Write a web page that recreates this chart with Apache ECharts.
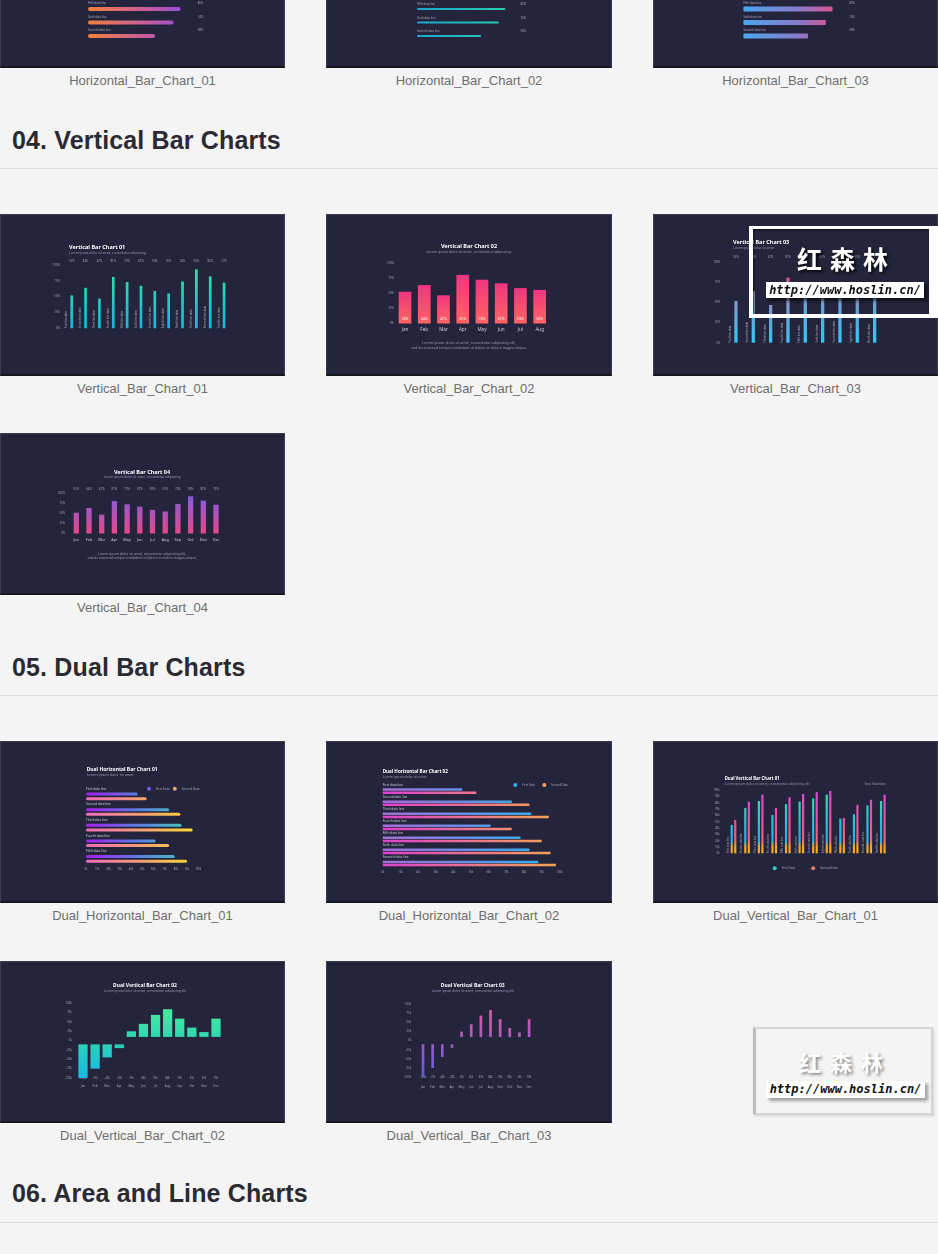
<!DOCTYPE html>
<html lang="en">
<head>
<meta charset="utf-8">
<title>Bar Chart Templates</title>
<script src="https://cdn.jsdelivr.net/npm/echarts@6.0.0/dist/echarts.min.js"></script>
<style>
html,body{margin:0;padding:0;background:#f4f4f4;width:938px;height:1254px;overflow:hidden;position:relative;font-family:"Liberation Sans",Arial,sans-serif;}
.thumb{position:absolute;height:162px;background:#24243c;overflow:hidden;}
.frame{position:absolute;height:162px;box-sizing:border-box;border:1px solid #3c3c50;border-bottom:2px solid #16161f;pointer-events:none;z-index:5;}
.cap{position:absolute;font-size:13px;line-height:16px;color:#6e6e6e;text-align:center;white-space:nowrap;}
.h{position:absolute;left:12px;font-size:25px;line-height:25px;font-weight:bold;color:#2a2a33;white-space:nowrap;letter-spacing:0.15px;}
.rule{position:absolute;left:0;width:938px;height:1px;background:#dcdcdc;}
.wmtext{position:absolute;font-family:"Noto Sans CJK SC",sans-serif;font-weight:bold;color:#ffffff;white-space:nowrap;z-index:21;}
.wmurl{position:absolute;background:#ffffff;color:#111;font:italic bold 12px "DejaVu Sans Mono",monospace;text-align:center;white-space:nowrap;z-index:21;}
</style>
</head>
<body>
<div class="h" style="top:128px">04. Vertical Bar Charts</div>
<div class="rule" style="top:168px"></div>
<div class="h" style="top:655px">05. Dual Bar Charts</div>
<div class="rule" style="top:695px"></div>
<div class="h" style="top:1181px">06. Area and Line Charts</div>
<div class="rule" style="top:1222px"></div>

<script>
// ---------------- data ----------------
const hbarCats = ['Fifth data line', 'Sixth data line', 'Seventh data line'];
const hbar01Values = [80, 74, 58];
const hbar02Values = [80, 74, 58];
const hbar03Values = [80, 74, 58];

const lineCats12 = ['First line data', 'Second line data', 'Third line data', 'Fourth line data', 'Fifth line data', 'Sixth line data', 'Seventh line data', 'Eighth line data', 'Ninth line data', 'Tenth line data', 'Eleventh line data', 'Twelfth line data'];
const vbar01Values = [52, 64, 47, 81, 73, 67, 59, 55, 74, 93, 82, 72];

const months8 = ['Jan', 'Feb', 'Mar', 'Apr', 'May', 'Jun', 'Jul', 'Aug'];
const vbar02Values = [53, 64, 47, 81, 73, 67, 59, 56];

const lineCats9 = ['First line data', 'Second line data', 'Third line data', 'Fourth line data', 'Fifth line data', 'Sixth line data', 'Seventh line data', 'Eighth line data', 'Ninth line data'];
const vbar03Values = [52, 64, 47, 81, 73, 67, 59, 55, 74];
const vbar03Highlight = 3;

const months12 = ['Jan', 'Feb', 'Mar', 'Apr', 'May', 'Jun', 'Jul', 'Aug', 'Sep', 'Oct', 'Nov', 'Dec'];
const vbar04Values = [52, 64, 47, 81, 73, 67, 59, 55, 74, 93, 82, 72];

const legendNames = ['First Data', 'Second Data'];
const dualH01Cats = ['First data line', 'Second data line', 'Third data line', 'Fourth data line', 'Fifth data line'];
const dualH01First = [46, 74, 85, 62, 79];
const dualH01Second = [54, 84, 95, 74, 90];

const dualH02Cats = ['First data line', 'Second data line', 'Third data line', 'Fourth data line', 'Fifth data line', 'Sixth data line', 'Seventh data line'];
const dualH02First = [45, 73, 84, 61, 78, 83, 88];
const dualH02Second = [53, 83, 94, 73, 90, 95, 98];

const dualV01Cats = ['First data line', 'Second data line', 'Third data line', 'Fourth data line', 'Fifth data line', 'Sixth data line', 'Seventh data line', 'Eighth data line', 'Ninth data line', 'Tenth data line', 'Eleventh data line', 'Twelfth data line'];
const dualV01First = [45, 72, 83, 61, 78, 82, 87, 93, 55, 62, 76, 83];
const dualV01Second = [53, 82, 93, 72, 89, 94, 97, 99, 56, 77, 85, 93];

const dualV02Values = [-100, -75, -45, -20, 25, 45, 69, 84, 59, 35, 23, 59];
const dualV03Values = [-100, -75, -45, -20, 25, 45, 69, 84, 59, 35, 23, 59];

// ---------------- helpers ----------------
const FONT = 'Noto Sans';
const AX = '#a4a4ba';
const LIGHT = '#c9c9d8';
const SUB = '#9a9ab2';
const G = echarts.graphic.LinearGradient;
const OFF = {show: false};
const FLOAT_GAP = 10; // visual gap around the zero line in the dual vertical charts

function makeThumb(x, y, w, caption) {
  const d = document.createElement('div');
  d.className = 'thumb';
  d.style.left = x + 'px'; d.style.top = y + 'px'; d.style.width = w + 'px';
  document.body.appendChild(d);
  const f = document.createElement('div');
  f.className = 'frame';
  f.style.left = x + 'px'; f.style.top = y + 'px'; f.style.width = w + 'px';
  document.body.appendChild(f);
  const c = document.createElement('div');
  c.className = 'cap';
  c.style.left = x + 'px'; c.style.width = w + 'px'; c.style.top = (y + 166.5) + 'px';
  c.textContent = caption;
  document.body.appendChild(c);
  return echarts.init(d, null, {renderer: 'canvas', width: w, height: 162});
}

function T(x, y, text, size, opt) {
  opt = opt || {};
  return {type: 'text', x: x, y: y, silent: true, z: 10,
    style: {text: text, fill: opt.color || '#ffffff', fontSize: size, fontWeight: opt.bold ? 'bold' : 'normal',
      fontFamily: FONT, align: opt.align || 'left', verticalAlign: 'middle'}};
}

function lab(size, extra) {
  return Object.assign({fontSize: size, color: AX, fontFamily: FONT}, extra || {});
}

function stops(list) {
  return list.map(s => ({offset: s[0], color: s[1]}));
}

function rotLabels(cats, dx, size) {
  return {type: 'custom', silent: true, z: 4, data: cats.map((c, i) => [i, 0]),
    renderItem: function (params, api) {
      const p = api.coord([api.value(0), 0]);
      return {type: 'text', x: p[0] + dx, y: p[1], rotation: Math.PI / 2,
        style: {text: cats[params.dataIndex], fill: AX, fontSize: size, fontFamily: FONT, align: 'left', verticalAlign: 'middle'}};
    }};
}

function hbarOption(values, c) {
  return {
    animation: false,
    grid: {left: c.left, top: 96.25, width: c.width, height: 40.5, outerBoundsMode: 'none'},
    xAxis: {type: 'value', min: 0, max: 100, show: false},
    yAxis: [
      {type: 'category', inverse: true, data: hbarCats, show: false},
      {type: 'category', inverse: true, position: 'right', data: values.map(v => v + '%'),
        axisLine: OFF, axisTick: OFF,
        axisLabel: lab(2.8, {inside: true, interval: 0, margin: c.pctMargin, verticalAlign: 'bottom', padding: [0, 0, c.barWidth / 2 - c.labelDy, 0]})}
    ],
    series: [{type: 'bar', data: values, barWidth: c.barWidth, yAxisIndex: 0,
      itemStyle: {color: new G(c.left, 0, c.left + c.width, 0, stops(c.stops), true), borderRadius: c.radius},
      label: {show: true, position: [0, c.labelDy], formatter: p => hbarCats[p.dataIndex], align: 'left', verticalAlign: 'bottom',
        fontSize: 2.8, color: AX, fontFamily: FONT}}]
  };
}

// ---------------- top row (partially visible) ----------------
makeThumb(0, -94, 285, 'Horizontal_Bar_Chart_01').setOption(hbarOption(hbar01Values, {
  left: 88, width: 115.75, barWidth: 4, radius: 2, labelDy: -2.2, pctMargin: 0.5,
  stops: [[0, '#f2803e'], [0.5, '#c75c9a'], [0.8, '#9a4ed6'], [1, '#8a4ee0']]}));
makeThumb(326, -94, 286, 'Horizontal_Bar_Chart_02').setOption(hbarOption(hbar02Values, {
  left: 91, width: 110.5, barWidth: 2, radius: 1, labelDy: -1.9, pctMargin: 1.5,
  stops: [[0, '#1ca6cc'], [1, '#2bd8a8']]}));
makeThumb(653, -94, 285, 'Horizontal_Bar_Chart_03').setOption(hbarOption(hbar03Values, {
  left: 90.4, width: 111.4, barWidth: 5, radius: 1, labelDy: -1.7, pctMargin: 0,
  stops: [[0, '#4aa8f0'], [0.5, '#8a78c8'], [0.8, '#d9558f'], [1, '#e8508a']]}));

// ---------------- Vertical Bar Chart 01 ----------------
makeThumb(0, 214, 285, 'Vertical_Bar_Chart_01').setOption({
  animation: false,
  graphic: [T(69, 33, 'Vertical Bar Chart 01', 5.5, {bold: true}),
            T(69, 39, 'Lorem ipsum dolor sit amet, consectetur adipiscing', 3.2, {color: SUB})],
  grid: {left: 64.8, top: 51, width: 166.2, height: 63.3, outerBoundsMode: 'none'},
  xAxis: [
    {type: 'category', data: lineCats12, axisLine: OFF, axisTick: OFF, axisLabel: OFF},
    {type: 'category', position: 'top', data: vbar01Values.map(v => v + '%'), axisLine: OFF, axisTick: OFF,
      axisLabel: lab(2.8, {interval: 0, margin: 2.5})}
  ],
  yAxis: {type: 'value', min: 0, max: 100, interval: 25, splitLine: OFF, axisLine: OFF, axisTick: OFF,
    axisLabel: lab(2.8, {formatter: '{value}%', margin: 5})},
  series: [
    {type: 'bar', data: vbar01Values, barWidth: 2.7,
      itemStyle: {color: new G(0, 51, 0, 114.3, stops([[0, '#2fe8a2'], [1, '#1bb3de']]), true)}},
    rotLabels(lineCats12, -5, 2.7)
  ]
});

// ---------------- Vertical Bar Chart 02 ----------------
makeThumb(326, 214, 286, 'Vertical_Bar_Chart_02').setOption({
  animation: false,
  graphic: [T(143, 32, 'Vertical Bar Chart 02', 5.5, {bold: true, align: 'center'}),
            T(143, 38, 'Lorem ipsum dolor sit amet, consectetur adipiscing.', 3.5, {color: SUB, align: 'center'}),
            T(143, 129, 'Lorem ipsum dolor sit amet, consectetur adipiscing elit,', 3.6, {color: SUB, align: 'center'}),
            T(143, 134, 'sed do eiusmod tempor incididunt ut labore et dolore magna aliqua.', 3.6, {color: SUB, align: 'center'})],
  grid: {left: 69.4, top: 49.5, width: 153.9, height: 60, outerBoundsMode: 'none'},
  xAxis: {type: 'category', data: months8, axisLine: OFF, axisTick: OFF,
    axisLabel: lab(4.6, {interval: 0, margin: 4, color: LIGHT})},
  yAxis: {type: 'value', min: 0, max: 100, interval: 25, splitLine: OFF, axisLine: OFF, axisTick: OFF,
    axisLabel: lab(2.8, {formatter: '{value}%', margin: 1.5})},
  series: [{type: 'bar', data: vbar02Values, barWidth: 12.7,
    itemStyle: {color: new G(0, 0, 0, 1, stops([[0, '#f0357f'], [1, '#ff6562']]))},
    label: {show: true, position: 'insideBottom', distance: 3, formatter: '{c}%', fontSize: 3.4, color: '#ffffff', fontFamily: FONT}}]
});

// ---------------- Vertical Bar Chart 03 ----------------
const vb03Normal = stops([[0, '#8592c4'], [1, '#2ec8f8']]);
const vb03Hot = stops([[0, '#e0468f'], [0.14, '#b878b4'], [0.4, '#8a95c8'], [1, '#2ec8f8']]);
makeThumb(653, 214, 285, 'Vertical_Bar_Chart_03').setOption({
  animation: false,
  graphic: [T(80, 28.7, 'Vertical Bar Chart 03', 5.5, {bold: true}),
            T(80, 34, 'Lorem ipsum dolor sit amet', 3.2, {color: SUB})],
  grid: {left: 74.3, top: 48.3, width: 156, height: 80.4, outerBoundsMode: 'none'},
  xAxis: [
    {type: 'category', data: lineCats9, axisLine: OFF, axisTick: OFF, axisLabel: OFF},
    {type: 'category', position: 'top', data: vbar03Values.map(v => v + '%'), axisLine: OFF, axisTick: OFF,
      axisLabel: lab(2.8, {interval: 0, margin: 4})}
  ],
  yAxis: {type: 'value', min: 0, max: 100, interval: 25, splitLine: OFF, axisLine: OFF, axisTick: OFF,
    axisLabel: lab(2.8, {formatter: '{value}%', margin: 7})},
  series: [
    {type: 'bar', barWidth: 3.3,
      data: vbar03Values.map((v, i) => ({value: v, itemStyle: {color: new G(0, 0, 0, 1, i === vbar03Highlight ? vb03Hot : vb03Normal)}}))},
    rotLabels(lineCats9, -5.7, 2.7)
  ]
});

// ---------------- Vertical Bar Chart 04 ----------------
makeThumb(0, 433, 285, 'Vertical_Bar_Chart_04').setOption({
  animation: false,
  graphic: [T(142, 39, 'Vertical Bar Chart 04', 5.5, {bold: true, align: 'center'}),
            T(142, 44, 'Lorem ipsum dolor sit amet, consectetur adipiscing', 3.2, {color: SUB, align: 'center'}),
            T(142, 120.7, 'Lorem ipsum dolor sit amet, consectetur adipiscing elit,', 3.4, {color: SUB, align: 'center'}),
            T(142, 125.3, 'sed do eiusmod tempor incididunt ut labore et dolore magna aliqua.', 3.4, {color: SUB, align: 'center'})],
  grid: {left: 69.95, top: 60.5, width: 152.4, height: 40, outerBoundsMode: 'none'},
  xAxis: [
    {type: 'category', data: months12, axisLine: OFF, axisTick: OFF, axisLabel: lab(3.8, {interval: 0, margin: 4.6, color: LIGHT})},
    {type: 'category', position: 'top', data: vbar04Values.map(v => v + '%'), axisLine: OFF, axisTick: OFF,
      axisLabel: lab(2.9, {interval: 0, margin: 3})}
  ],
  yAxis: {type: 'value', min: 0, max: 100, interval: 25, splitLine: OFF, axisLine: OFF, axisTick: OFF,
    axisLabel: lab(2.8, {formatter: '{value}%', margin: 5})},
  series: [{type: 'bar', data: vbar04Values, barWidth: 5.3,
    itemStyle: {color: new G(0, 60.5, 0, 100.5, stops([[0, '#7c5ee0'], [1, '#e8468c']]), true)}}]
});

// ---------------- Dual Horizontal Bar Chart 01 ----------------
makeThumb(0, 741, 285, 'Dual_Horizontal_Bar_Chart_01').setOption({
  animation: false,
  graphic: [T(86.7, 29, 'Dual Horizontal Bar Chart 01', 5, {bold: true}),
            T(86.7, 34.3, 'Lorem ipsum dolor sit amet', 3.6, {color: SUB})],
  legend: {left: 142, top: 40.7, itemWidth: 4, itemHeight: 4, itemGap: 3.3, icon: 'circle', textStyle: lab(3),
    data: [{name: legendNames[0], itemStyle: {color: '#6b5fe6'}}, {name: legendNames[1], itemStyle: {color: '#f4a46c'}}]},
  grid: {left: 86, top: 47.54, width: 112.3, height: 78.1, outerBoundsMode: 'none'},
  xAxis: {type: 'value', min: 0, max: 100, interval: 10, splitLine: OFF, axisLine: OFF, axisTick: OFF,
    axisLabel: lab(2.6, {formatter: '{value}k', margin: 1})},
  yAxis: {type: 'category', inverse: true, data: dualH01Cats, show: false},
  series: [
    {name: legendNames[0], type: 'bar', data: dualH01First, barWidth: 3, barGap: '53%',
      itemStyle: {color: new G(86, 0, 198.3, 0, stops([[0, '#a51ff0'], [0.45, '#5d7ae2'], [1, '#3edbb0']]), true), borderRadius: 1.5},
      label: {show: true, position: [0, -2.3], formatter: p => dualH01Cats[p.dataIndex], align: 'left', verticalAlign: 'bottom',
        fontSize: 3.2, color: LIGHT, fontFamily: FONT}},
    {name: legendNames[1], type: 'bar', data: dualH01Second, barWidth: 3,
      itemStyle: {color: new G(86, 0, 198.3, 0, stops([[0, '#f06cb8'], [0.5, '#f5a070'], [1, '#f9e02a']]), true), borderRadius: 1.5}}
  ]
});

// ---------------- Dual Horizontal Bar Chart 02 ----------------
makeThumb(326, 741, 286, 'Dual_Horizontal_Bar_Chart_02').setOption({
  animation: false,
  graphic: [T(56.7, 31, 'Dual Horizontal Bar Chart 02', 4.6, {bold: true}),
            T(56.7, 35.7, 'Lorem ipsum dolor sit amet', 3.4, {color: SUB})],
  legend: {left: 182.3, top: 37, itemWidth: 4, itemHeight: 4, itemGap: 7.4, icon: 'circle', textStyle: lab(2.8),
    data: [{name: legendNames[0], itemStyle: {color: '#23b7f0'}}, {name: legendNames[1], itemStyle: {color: '#f5a35c'}}]},
  grid: {left: 56.7, top: 44.2, width: 176.7, height: 84.3, outerBoundsMode: 'none'},
  xAxis: {type: 'value', min: 0, max: 100, interval: 10, splitLine: OFF, axisLine: OFF, axisTick: OFF,
    axisLabel: lab(2.6, {formatter: '{value}k', margin: 1.3})},
  yAxis: {type: 'category', inverse: true, data: dualH02Cats, show: false},
  series: [
    {name: legendNames[0], type: 'bar', data: dualH02First, barWidth: 2.5, barGap: '28%',
      itemStyle: {color: new G(56.7, 0, 233.4, 0, stops([[0, '#a56cd8'], [1, '#22b8f2']]), true)},
      label: {show: true, position: [0, -1.75], formatter: p => dualH02Cats[p.dataIndex], align: 'left', verticalAlign: 'bottom',
        fontSize: 3.2, color: LIGHT, fontFamily: FONT}},
    {name: legendNames[1], type: 'bar', data: dualH02Second, barWidth: 2.5,
      itemStyle: {color: new G(56.7, 0, 233.4, 0, stops([[0, '#e03fd0'], [1, '#f7a84f']]), true)}}
  ]
});

// ---------------- Dual Vertical Bar Chart 01 ----------------
makeThumb(653, 741, 285, 'Dual_Vertical_Bar_Chart_01').setOption({
  animation: false,
  graphic: [T(71.7, 37.3, 'Dual Vertical Bar Chart 01', 4.3, {bold: true}),
            T(71.7, 43.3, 'Lorem ipsum dolor sit amet, consectetur adipiscing elit', 3.3, {color: SUB}),
            T(232.7, 43.3, 'Year Statistics', 3.3, {color: SUB, align: 'right'})],
  legend: {left: 114.7, top: 120.3, itemWidth: 4, itemHeight: 4, itemGap: 16, icon: 'circle', textStyle: lab(3),
    data: [{name: legendNames[0], itemStyle: {color: '#1fd6c4'}}, {name: legendNames[1], itemStyle: {color: '#ef7a68'}}]},
  grid: {left: 73.7, top: 49.3, width: 162.9, height: 63, outerBoundsMode: 'none'},
  xAxis: {type: 'category', data: dualV01Cats, axisLine: OFF, axisTick: OFF, axisLabel: OFF},
  yAxis: {type: 'value', min: 0, max: 100, interval: 10, splitLine: OFF, axisLine: OFF, axisTick: OFF,
    axisLabel: lab(2.8, {formatter: '{value}k', margin: 7})},
  series: [
    {name: legendNames[0], type: 'bar', data: dualV01First, barWidth: 2.2, barGap: '60%',
      itemStyle: {color: new G(0, 49.3, 0, 112.3, stops([[0, '#2ee8a0'], [0.5, '#22c4d6'], [0.8, '#1eb2ee'], [0.9, '#f5a623'], [1, '#f7a520']]), true)}},
    {name: legendNames[1], type: 'bar', data: dualV01Second, barWidth: 2.2,
      itemStyle: {color: new G(0, 49.3, 0, 112.3, stops([[0, '#d94ae0'], [0.5, '#ef4f9a'], [0.8, '#f2607a'], [0.9, '#f5a623'], [1, '#f7b020']]), true)}},
    rotLabels(dualV01Cats, -5.5, 2.6)
  ]
});

// ---------------- Dual Vertical Bar Chart 02 / 03 ----------------
function dualVOption(values, c) {
  const base = values.map(v => (v > 0 ? FLOAT_GAP : -FLOAT_GAP));
  const rest = values.map(v => (v > 0 ? v - FLOAT_GAP : v + FLOAT_GAP));
  return {
    animation: false,
    graphic: [T(c.cx, 25, c.title, 5, {bold: true, align: 'center'}),
              T(c.cx, 29.8, 'Lorem ipsum dolor sit amet, consectetur adipiscing elit', 3.2, {color: SUB, align: 'center'})],
    grid: {left: c.left, top: c.top, width: c.width, height: c.height, outerBoundsMode: 'none'},
    xAxis: [
      {type: 'category', data: values.map(v => v + 'k'), axisLine: {show: false, onZero: true}, axisTick: OFF,
        axisLabel: lab(2.6, {interval: 0, margin: 0, verticalAlign: 'middle'})},
      {type: 'category', position: 'bottom', data: months12, axisLine: {show: false, onZero: false}, axisTick: OFF,
        axisLabel: lab(3, {interval: 0, margin: c.monthMargin})}
    ],
    yAxis: {type: 'value', min: -100, max: 100, interval: 25, splitLine: OFF, axisLine: OFF, axisTick: OFF,
      axisLabel: lab(2.8, {formatter: '{value}k', margin: c.yMargin})},
    series: [
      {type: 'bar', stack: 'v', data: base, barWidth: c.barWidth, silent: true, itemStyle: {color: 'rgba(0,0,0,0)'}},
      {type: 'bar', stack: 'v', data: rest, barWidth: c.barWidth,
        itemStyle: {color: new G(0, c.top, 0, c.top + c.height, stops(c.stops), true)}}
    ]
  };
}

makeThumb(0, 961, 285, 'Dual_Vertical_Bar_Chart_02').setOption(dualVOption(dualV02Values, {
  title: 'Dual Vertical Bar Chart 02', cx: 145, left: 76.95, top: 42.3, width: 145.1, height: 74.7,
  barWidth: 9.3, yMargin: 5, monthMargin: 6.5,
  stops: [[0, '#48ef96'], [0.5, '#2bd6b4'], [1, '#1ab4e8']]}));

makeThumb(326, 961, 286, 'Dual_Vertical_Bar_Chart_03').setOption(dualVOption(dualV03Values, {
  title: 'Dual Vertical Bar Chart 03', cx: 146.7, left: 92.2, top: 43.3, width: 115.7, height: 72.7,
  barWidth: 2.7, yMargin: 7, monthMargin: 8.5,
  stops: [[0, '#ea5a98'], [0.5, '#a45ac4'], [1, '#5a5ae0']]}));
</script>

<!-- watermark overlays -->
<div style="position:absolute;left:749px;top:226px;width:189px;height:92px;box-sizing:border-box;border:solid #ffffff;border-width:3px 9px 4px 4px;z-index:20;box-shadow:inset 1px 1px 2px rgba(0,0,0,0.6);"></div>
<div class="wmtext" style="left:797px;top:246px;font-size:25px;line-height:25px;letter-spacing:8px;text-shadow:2px 2px 3px rgba(0,0,0,0.85);">红森林</div>
<div class="wmurl" style="left:766px;top:282px;width:158px;height:16px;line-height:16px;box-shadow:3px 3px 3px rgba(0,0,0,0.6);">http://www.hoslin.cn/</div>

<div style="position:absolute;left:753px;top:1027px;width:180px;height:88px;box-sizing:border-box;border:2px solid #d6d6d6;border-left:3px solid #bdbdbd;z-index:20;box-shadow:1px 1px 2px rgba(0,0,0,0.15);"></div>
<div class="wmtext" style="left:799px;top:1050px;font-size:22px;line-height:22px;letter-spacing:9px;text-shadow:2px 2px 3px rgba(0,0,0,0.45);">红森林</div>
<div class="wmurl" style="left:766px;top:1081px;width:159px;height:17px;line-height:17px;box-shadow:3px 3px 3px rgba(0,0,0,0.35);">http://www.hoslin.cn/</div>
</body>
</html>
